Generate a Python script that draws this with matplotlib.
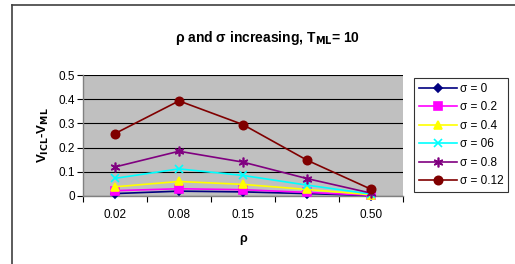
import matplotlib
matplotlib.use("Agg")

import numpy as np
import matplotlib.pyplot as plt
from matplotlib.lines import Line2D

plt.rcParams["font.family"] = ["Liberation Sans", "DejaVu Sans"]

rho_labels = ["0.02", "0.08", "0.15", "0.25", "0.50"]

sigma_0 = [0.010, 0.020, 0.017, 0.010, 0.002]
sigma_02 = [0.022, 0.030, 0.026, 0.015, 0.003]
sigma_04 = [0.038, 0.060, 0.048, 0.027, 0.005]
sigma_06 = [0.073, 0.112, 0.085, 0.045, 0.008]
sigma_08 = [0.120, 0.185, 0.140, 0.072, 0.012]
sigma_012 = [0.258, 0.393, 0.295, 0.148, 0.028]

series = [
    ("σ = 0", sigma_0, "#000080", "D", 4),
    ("σ = 0.2", sigma_02, "#FF00FF", "s", 5.5),
    ("σ = 0.4", sigma_04, "#FFFF00", "^", 6),
    ("σ = 06", sigma_06, "#00FFFF", "x", 6),
    ("σ = 0.8", sigma_08, "#800080", (6, 2, 0), 7),
    ("σ = 0.12", sigma_012, "#800000", "o", 6),
]

fig = plt.figure(figsize=(5.15, 2.64), dpi=100)
W, H = 515, 264
ax = fig.add_axes([83 / W, 1 - 196 / H, 320 / W, 121 / H])
ax.set_facecolor("#C0C0C0")

x = np.arange(len(rho_labels))
for label, vals, color, marker, ms in series:
    ax.plot(x, vals, color=color, marker=marker, markersize=ms, lw=1.2,
            markeredgecolor=color, markerfacecolor=color,
            markeredgewidth=1.2, label=label, clip_on=False, zorder=3)

ax.set_xlim(-0.5, len(rho_labels) - 0.5)
ax.set_ylim(0, 0.5)
ax.set_yticks([0, 0.1, 0.2, 0.3, 0.4, 0.5])
ax.set_yticklabels(["0", "0.1", "0.2", "0.3", "0.4", "0.5"])
ax.set_xticks(x)
ax.set_xticklabels(rho_labels)
ax.set_xticks(np.arange(-0.5, len(rho_labels)), minor=True)
ax.tick_params(axis="x", which="major", length=0, pad=9, labelsize=8.5)
ax.tick_params(axis="x", which="minor", length=4, width=0.8, direction="out")
ax.tick_params(axis="y", length=4, width=0.8, direction="out", labelsize=8.5, pad=2)
ax.grid(axis="y", color="black", lw=0.8)
ax.set_axisbelow(True)
for side in ["top", "right"]:
    ax.spines[side].set_visible(False)
ax.spines["left"].set_color("#808080")
ax.spines["bottom"].set_color("#808080")
ax.spines["left"].set_linewidth(1.0)
ax.spines["bottom"].set_linewidth(1.0)

ax.set_xlabel("ρ", fontsize=9, fontweight="bold", labelpad=9)
ax.set_ylabel(r"V$_{\mathbf{ICL}}$-V$_{\mathbf{ML}}$", fontsize=9.5, fontweight="bold", labelpad=5)

fig.text(268 / W, 1 - 38 / H, r"ρ and σ increasing, T$_{\mathbf{ML}}$= 10",
         ha="center", va="center", fontsize=10, fontweight="bold")

leg = fig.legend(loc="upper left", bbox_to_anchor=(414 / W, 1 - 78 / H),
                 frameon=True, fancybox=False, fontsize=8.5, handlelength=3.2,
                 labelspacing=0.55, borderpad=0.4, handletextpad=0.3,
                 borderaxespad=0)
leg.get_frame().set_edgecolor("black")
leg.get_frame().set_linewidth(0.8)

# chart area border (Excel style)
fig.add_artist(Line2D([12 / W, 12 / W], [0, 1 - 5 / H], color="#404040", lw=1.2,
                      transform=fig.transFigure))
fig.add_artist(Line2D([12 / W, 1], [1 - 5 / H, 1 - 5 / H], color="#404040", lw=1.2,
                      transform=fig.transFigure))

fig.savefig("out.png", dpi=100)
